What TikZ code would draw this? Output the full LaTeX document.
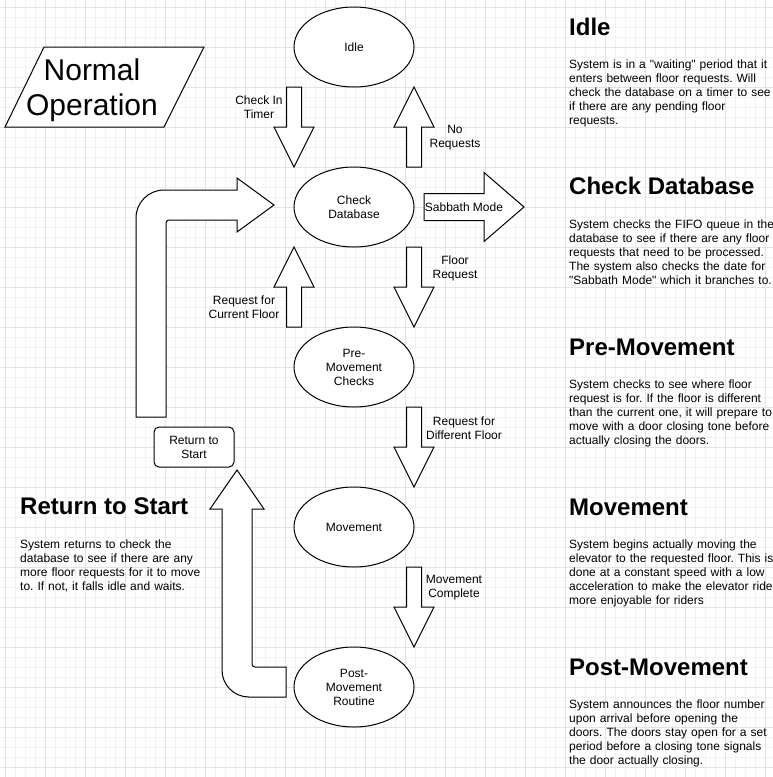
\documentclass[tikz,border=0pt]{standalone}
\usepackage{fontspec}
\setmainfont{Liberation Sans}
\usetikzlibrary{shapes.geometric,calc}
\frenchspacing

\tikzset{
	minorgrid/.style={draw=black!5, line width=1pt},
	majorgrid/.style={draw=black!11, line width=1pt},
	state/.style={ellipse, draw, fill=white, line width=1pt, minimum width=120, minimum height=80, inner sep=0, outer sep=0, align=center, font=\fontsize{12}{14}\selectfont},
	lbl/.style={inner sep=0, align=center, font=\fontsize{12}{14}\selectfont},
	heading/.style={inner sep=0, anchor=base west, font=\bfseries\fontsize{24}{28}\selectfont},
	desc/.style={inner sep=0, anchor=base west, text width=225, align=left, font=\fontsize{12}{14}\selectfont},
	fat/.style={draw, fill=white, line width=1pt, line join=miter},
	fatarrow/.style n args={3}{to path={
		($(\tikztotarget)!#3!(\tikztostart)$) coordinate (fa-h)
		($(\tikztostart)!#1!90:(fa-h)$) -- ($(fa-h)!#1!-90:(\tikztostart)$)
		-- ($(fa-h)!#2!-90:(\tikztostart)$) -- (\tikztotarget)
		-- ($(fa-h)!#2!90:(\tikztostart)$) -- ($(fa-h)!#1!90:(\tikztostart)$)
		-- ($(\tikztostart)!#1!-90:(fa-h)$) -- cycle}}
}

\begin{document}
\begin{tikzpicture}[x=1pt, y=-1pt]
	\useasboundingbox (0,0) rectangle (773,777);
	\fill[white] (0,0) rectangle (773,777);
	\foreach \gx in {5,15,...,775} \draw[minorgrid] (\gx,0) -- (\gx,777);
	\foreach \gy in {7,17,...,777} \draw[minorgrid] (0,\gy) -- (773,\gy);
	\foreach \gx in {5,45,...,765} \draw[majorgrid] (\gx,0) -- (\gx,777);
	\foreach \gy in {7,47,...,767} \draw[majorgrid] (0,\gy) -- (773,\gy);

	\draw[line width=1pt, fill=white] (44,47) -- (204,47) -- (164,127) -- (5,127) -- cycle;
	\node[inner sep=0, align=center, font=\fontsize{30}{35}\selectfont] (title) at (92,90) {Normal\\Operation};

	\node[state] (idle) at (354,47) {Idle};
	\node[state] (check) at (354,207) {Check\\Database};
	\node[state] (pre) at (354,367) {Pre-\\Movement\\Checks};
	\node[state] (move) at (354,527) {Movement};
	\node[state] (post) at (354,687) {Post-\\Movement\\Routine};

	\draw[fat] (idle.west |- idle.south) to[fatarrow={7.5pt}{20pt}{40pt}] (check.west |- check.north);
	\draw[fat] (check.east |- check.north) to[fatarrow={7.5pt}{20pt}{40pt}] (idle.east |- idle.south);
	\draw[fat] (check.east |- check.south) to[fatarrow={7.5pt}{20pt}{40pt}] (pre.east |- pre.north);
	\draw[fat] (pre.west |- pre.north) to[fatarrow={7.5pt}{20pt}{40pt}] (check.west |- check.south);
	\draw[fat] (pre.east |- pre.south) to[fatarrow={7.5pt}{20pt}{40pt}] (move.east |- move.north);
	\draw[fat] (move.east |- move.south) to[fatarrow={7.5pt}{20pt}{40pt}] (post.east |- post.north);
	\draw[fat] ($(check.east)+(10,0)$) to[fatarrow={13.5pt}{34.5pt}{40pt}] ($(check.east)+(110,0)$);

	\node[lbl] (timer) at (259,107) {Check In\\Timer};
	\node[lbl] (noreq) at (455,138) {No\\Requests};
	\node[lbl] (sabbath) at (464,207) {Sabbath Mode};
	\node[lbl] (floorreq) at (455,268) {Floor\\Request};
	\node[lbl] (curfloor) at (244,307) {Request for\\Current Floor};
	\node[lbl] (difffloor) at (464,428) {Request for\\Different Floor};
	\node[lbl] (done) at (454,588) {Movement\\Complete};

	\node[draw, line width=1pt, fill=white, rounded corners=5pt, minimum width=80, minimum height=40, inner sep=0, align=center, font=\fontsize{12}{14}\selectfont] (ret) at (194,447) {Return to\\Start};

	\draw[fat] (136,417) -- (136,218) .. controls (136,202.5) and (148.5,190) .. (164,190) -- (237,190) -- (237,178) -- (274,205) -- (237,232) -- (237,220) -- (169,220) .. controls (167.3,220) and (166,221.3) .. (166,223) -- (166,417) -- cycle;
	\draw[fat] (286,697) -- (249,697) .. controls (234,697) and (222,685) .. (222,670) -- (222,509) -- (210,509) -- (237,470) -- (264,509) -- (252,509) -- (252,664) .. controls (252,665.7) and (253.3,667) .. (255,667) -- (286,667) -- cycle;

	\node[heading] (h-idle) at (569,35) {Idle};
	\node[desc] (d-idle) at (569,68) {System is in a \textquotedbl waiting\textquotedbl{} period that it\\enters between floor requests. Will\\check the database on a timer to see\\if there are any pending floor\\requests.};
	\node[heading] (h-check) at (569,194) {Check Database};
	\node[desc] (d-check) at (569,228) {System checks the FIFO queue in the\\database to see if there are any floor\\requests that need to be processed.\\The system also checks the date for\\\textquotedbl Sabbath Mode\textquotedbl{} which it branches to.};
	\node[heading] (h-pre) at (569,355) {Pre-Movement};
	\node[desc] (d-pre) at (569,388) {System checks to see where floor\\request is for. If the floor is different\\than the current one, it will prepare to\\move with a door closing tone before\\actually closing the doors.};
	\node[heading] (h-move) at (569,515) {Movement};
	\node[desc] (d-move) at (569,548) {System begins actually moving the\\elevator to the requested floor. This is\\done at a constant speed with a low\\acceleration to make the elevator ride\\more enjoyable for riders};
	\node[heading] (h-post) at (569,675) {Post-Movement};
	\node[desc] (d-post) at (569,708) {System announces the floor number\\upon arrival before opening the\\doors. The doors stay open for a set\\period before a closing tone signals\\the door actually closing.};
	\node[heading] (h-ret) at (20,514) {Return to Start};
	\node[desc] (d-ret) at (20,548) {System returns to check the\\database to see if there are any\\more floor requests for it to move\\to. If not, it falls idle and waits.};
\end{tikzpicture}
\end{document}
